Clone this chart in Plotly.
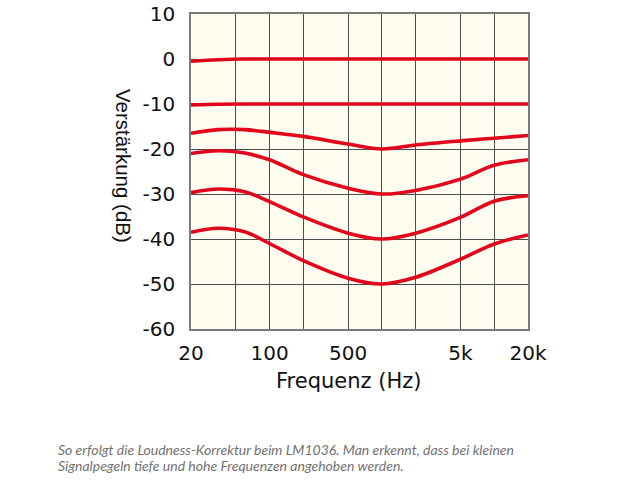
import plotly.graph_objects as go

# Data
freq_hz = [20, 35, 60, 100, 200, 500, 1000, 2000, 5000, 10000, 20000]
curve_0db = [-0.5, -0.15, 0.0, 0.0, 0.0, 0.0, 0.0, 0.0, 0.0, 0.0, 0.0]
curve_10db = [-10.2, -10.05, -10.0, -10.0, -10.0, -10.0, -10.0, -10.0, -10.0, -10.0, -10.0]
curve_20db = [-16.5, -15.7, -15.7, -16.3, -17.2, -18.9, -20.0, -19.1, -18.2, -17.6, -17.0]
curve_30db = [-21.0, -20.4, -20.9, -22.4, -25.7, -28.7, -30.0, -29.2, -26.7, -23.6, -22.4]
curve_40db = [-29.7, -28.9, -29.5, -31.7, -35.1, -38.7, -40.0, -38.7, -35.2, -31.6, -30.4]
curve_50db = [-38.5, -37.6, -38.4, -41.0, -44.8, -48.7, -50.0, -48.5, -44.5, -41.1, -39.1]

x_tickvals = [20, 50, 100, 200, 500, 1000, 2000, 5000, 10000, 20000]
x_ticktext = ["20", "", "100", "", "500", "", "", "5k", "", "20k"]
y_tickvals = [10, 0, -10, -20, -30, -40, -50, -60]
y_ticktext = ["10", "0", "-10", "-20", "-30", "-40", "-50", "-60"]

caption_1 = "So erfolgt die Loudness-Korrektur beim LM1036. Man erkennt, dass bei kleinen"
caption_2 = "Signalpegeln tiefe und hohe Frequenzen angehoben werden."

RED = "#e2061c"
fig = go.Figure()
for ys in [curve_0db, curve_10db, curve_20db, curve_30db, curve_40db, curve_50db]:
    fig.add_trace(go.Scatter(x=freq_hz, y=ys, mode="lines",
                             line=dict(color=RED, width=3.6, shape="spline", smoothing=1.0),
                             hoverinfo="skip", showlegend=False))

wide_font = "DejaVu Sans, Verdana, sans-serif"
axis_common = dict(showgrid=True, gridcolor="#4d4d4d", gridwidth=1,
                   showline=True, linecolor="#7a7a7a", linewidth=1.5, mirror=True,
                   ticks="outside", tickcolor="rgba(0,0,0,0)",
                   tickfont=dict(family=wide_font, size=20, color="#111"),
                   zeroline=False, automargin=False)
fig.update_layout(
    width=640, height=480,
    margin=dict(l=191, r=112, t=14, b=151),
    paper_bgcolor="white",
    plot_bgcolor="#fefdf0",
    font=dict(family="Liberation Sans, Arial, sans-serif", size=20, color="#111"),
    xaxis=dict(type="log", range=[1.30103, 4.30103], ticklen=5,
               tickvals=x_tickvals, ticktext=x_ticktext, **axis_common),
    yaxis=dict(range=[-60, 10], ticklen=10, tickvals=y_tickvals, ticktext=y_ticktext, **axis_common),
    annotations=[
        dict(text="Frequenz (Hz)", xref="paper", yref="paper",
             x=(348 - 191) / 337, y=(329 - 381) / 315, xanchor="center", yanchor="middle",
             showarrow=False, font=dict(family=wide_font, size=21, color="#111")),
        dict(text="Verstärkung (dB)", xref="paper", yref="paper",
             x=(123 - 191) / 337, y=(329 - 166) / 315, xanchor="center", yanchor="middle",
             textangle=90, showarrow=False,
             font=dict(family="Liberation Sans, Arial, sans-serif", size=20.5, color="#111")),
        dict(text=caption_1, xref="paper", yref="paper",
             x=(56 - 191) / 337, y=(329 - 449) / 315, xanchor="left", yanchor="middle",
             showarrow=False, font=dict(family="Lato, sans-serif", size=14, color="#727272")),
        dict(text=caption_2, xref="paper", yref="paper",
             x=(56 - 191) / 337, y=(329 - 465) / 315, xanchor="left", yanchor="middle",
             showarrow=False, font=dict(family="Lato, sans-serif", size=14, color="#727272")),
    ],
)
for a in fig.layout.annotations[2:]:
    a.font.style = "italic"

fig.write_html("out.html", config={"displayModeBar": False},
               post_script="document.body.style.margin='0';")
